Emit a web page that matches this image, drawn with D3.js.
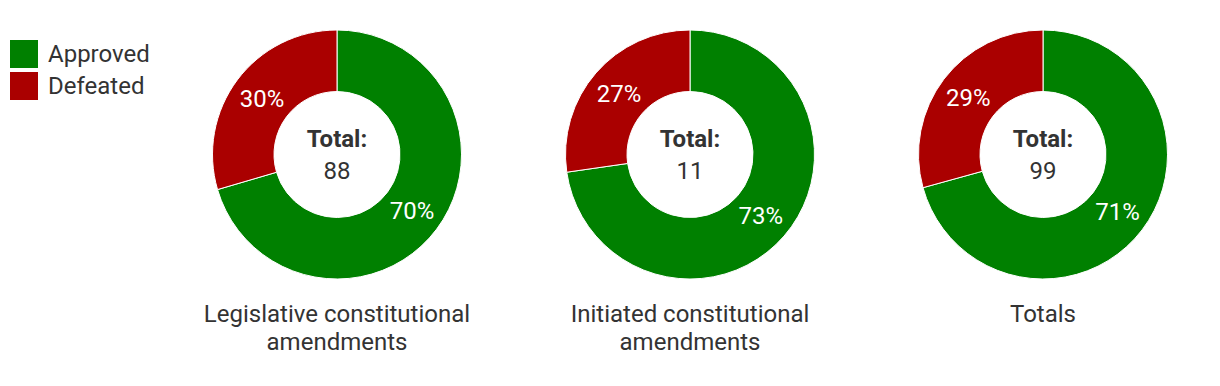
<!DOCTYPE html>
<html>
<head>
<meta charset="utf-8">
<script src="https://cdn.jsdelivr.net/npm/d3@7"></script>
<style>
  html, body { margin: 0; padding: 0; background: #fff; }
  svg { display: block; font-family: Roboto, "Noto Sans", sans-serif; }
</style>
</head>
<body>
<svg id="chart" width="1220" height="386"></svg>
<script>
const categories = [["Legislative constitutional", "amendments"], ["Initiated constitutional", "amendments"], ["Totals"]];
const seriesNames = ["Approved", "Defeated"];
const seriesColors = ["#008000", "#aa0000"];
const approved = [62, 8, 70];
const defeated = [26, 3, 29];

const svg = d3.select("#chart");
const textColor = "#333333";
const fontSize = 24;

// Legend
const legend = svg.append("g").attr("transform", "translate(10,40)");
seriesNames.forEach((name, i) => {
  const g = legend.append("g").attr("transform", `translate(0,${i * 32})`);
  g.append("rect").attr("width", 28).attr("height", 28).attr("fill", seriesColors[i]);
  g.append("text").attr("x", 38).attr("y", 22)
    .attr("font-size", fontSize).attr("fill", textColor).text(name);
});

const xScale = d3.scalePoint().domain(d3.range(categories.length)).range([337, 1043]);
const cy = 154.5;
const outerR = 124.5;
const innerR = 63;

const pie = d3.pie().sort(null).value(d => d.value);
const arc = d3.arc().innerRadius(innerR).outerRadius(outerR);
const labelArc = d3.arc().innerRadius((innerR + outerR) / 2).outerRadius((innerR + outerR) / 2);

categories.forEach((cat, i) => {
  const data = [
    { name: seriesNames[0], value: approved[i], color: seriesColors[0] },
    { name: seriesNames[1], value: defeated[i], color: seriesColors[1] }
  ];
  const total = approved[i] + defeated[i];
  const g = svg.append("g").attr("transform", `translate(${xScale(i)},${cy})`);
  const arcs = pie(data);
  g.selectAll("path").data(arcs).join("path")
    .attr("d", arc)
    .attr("fill", d => d.data.color)
    .attr("stroke", "#ffffff")
    .attr("stroke-width", 1);
  g.selectAll("text.pct").data(arcs).join("text")
    .attr("class", "pct")
    .attr("transform", d => `translate(${labelArc.centroid(d)})`)
    .attr("text-anchor", "middle")
    .attr("dy", "0.35em")
    .attr("font-size", fontSize)
    .attr("fill", "#ffffff")
    .text(d => Math.round(d.data.value / total * 100) + "%");
  g.append("text").attr("text-anchor", "middle").attr("y", -8)
    .attr("font-size", fontSize).attr("font-weight", "bold").attr("fill", textColor)
    .text("Total:");
  g.append("text").attr("text-anchor", "middle").attr("y", 24)
    .attr("font-size", fontSize).attr("fill", textColor)
    .text(total);
  const title = svg.append("text").attr("text-anchor", "middle")
    .attr("font-size", fontSize).attr("fill", textColor);
  cat.forEach((line, j) => {
    title.append("tspan").attr("x", xScale(i)).attr("y", 322 + j * 28).text(line);
  });
});
</script>
</body>
</html>
